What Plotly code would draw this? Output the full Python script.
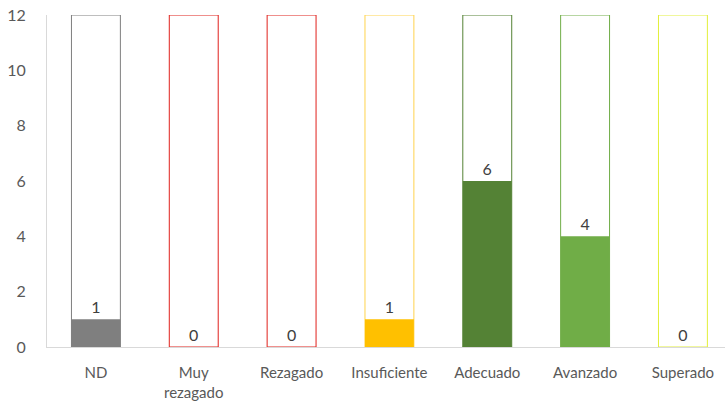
import plotly.graph_objects as go

categories = ["ND", "Muy<br>rezagado", "Rezagado", "Insuficiente", "Adecuado", "Avanzado", "Superado"]
values = [1, 0, 0, 1, 6, 4, 0]
capacity = [12, 12, 12, 12, 12, 12, 12]
outline_colors = ["#7f7f7f", "#e0201b", "#e0201b", "#ffd34d", "#548235", "#70ad47", "#e2ef3a"]
fill_colors = ["#7f7f7f", "#c00000", "#c00000", "#ffc000", "#548235", "#70ad47", "#d9e021"]
y_ticks = [0, 2, 4, 6, 8, 10, 12]

x = list(range(len(categories)))
FONT = "Lato, Open Sans, Liberation Sans, sans-serif"

fig = go.Figure()
fig.add_trace(go.Bar(
    x=x, y=capacity, width=0.5,
    marker=dict(color="white", line=dict(color=outline_colors, width=1)),
    hoverinfo="skip", showlegend=False,
))
fig.add_trace(go.Bar(
    x=x, y=values, width=0.5,
    marker=dict(color=fill_colors, line=dict(width=0)),
    text=[str(v) for v in values], textposition="outside",
    textfont=dict(size=16, color="#404040", family=FONT),
    cliponaxis=False, showlegend=False,
))

fig.update_layout(
    barmode="overlay",
    width=725, height=402,
    margin=dict(l=47, r=0, t=15, b=55),
    plot_bgcolor="white", paper_bgcolor="white",
    font=dict(family=FONT, size=15, color="#595959"),
    xaxis=dict(
        tickmode="array", tickvals=x, ticktext=categories,
        range=[-0.5, 6.43], showgrid=False, zeroline=False,
        showline=True, linecolor="#d9d9d9", linewidth=1,
        ticks="outside", ticklen=12, tickcolor="rgba(0,0,0,0)",
        tickfont=dict(size=15, color="#595959"),
    ),
    yaxis=dict(
        range=[0, 12], tickvals=y_ticks, showgrid=False, zeroline=False,
        showline=True, linecolor="#d9d9d9", linewidth=1,
        ticks="outside", ticklen=17, tickcolor="rgba(0,0,0,0)",
        tickfont=dict(size=16, color="#595959"),
    ),
)

fig.write_html(
    "out.html",
    config={"displayModeBar": False},
    post_script="document.body.style.margin='0';document.body.style.overflow='hidden';",
)
